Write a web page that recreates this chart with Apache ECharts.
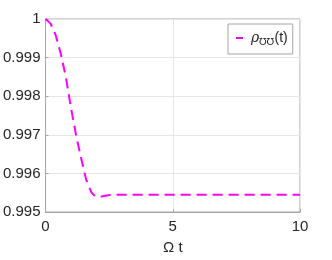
<!DOCTYPE html>
<html><head><meta charset="utf-8">
<script src="https://cdn.jsdelivr.net/npm/echarts@6/dist/echarts.min.js"></script>
<style>html,body{margin:0;padding:0;background:#fff}#c{width:332px;height:260px}</style>
</head><body><div id="c"></div>
<script>
const tValues = [0, 0.2, 0.4, 0.6, 0.8, 1.0, 1.2, 1.4, 1.6, 1.8, 1.9, 2.0, 2.1, 2.2, 2.4, 2.7, 3, 4, 5, 6, 7, 8, 9, 10];
const rhoValues = [1.0, 0.99988, 0.99958, 0.99910, 0.99849, 0.99770, 0.99699, 0.99639, 0.99583, 0.99551, 0.99544, 0.99540, 0.99539, 0.99540, 0.99543, 0.99545, 0.99545, 0.99545, 0.99545, 0.99545, 0.99545, 0.99545, 0.99545, 0.99545];
const xTickLabels = ['0', '5', '10'];
const yTickLabels = ['0.995', '0.996', '0.997', '0.998', '0.999', '1'];
const seriesName = 'rho';

const chart = echarts.init(document.getElementById('c'));
const txt = '#262626';
chart.setOption({
  animation: false,
  grid: {left: 44, right: 32, top: 19, bottom: 44, show: true, borderColor: '#a6a6a6', borderWidth: 1},
  legend: {
    show: true, left: 228, top: 24, width: 61, height: 31,
    orient: 'vertical',
    backgroundColor: '#fff', borderColor: '#a6a6a6', borderWidth: 1,
    padding: [7, 5, 7, 8],
    icon: 'rect', itemWidth: 7, itemHeight: 2, itemGap: 4,
    data: [seriesName],
    formatter: () => '{r|ρ}{s|℧℧}{n|(t)}',
    textStyle: {
      color: txt,
      rich: {
        r: {fontFamily: 'DejaVu Serif', fontStyle: 'italic', fontSize: 14, color: txt, padding: [0,0,0,3]},
        s: {fontFamily: 'DejaVu Sans', fontSize: 10, color: txt, verticalAlign: 'bottom', padding: [8,0,0,0]},
        n: {fontFamily: 'Liberation Sans', fontSize: 14, color: txt}
      }
    }
  },
  xAxis: {
    type: 'value', min: 0, max: 10, interval: 5,
    name: 'Ω t', nameLocation: 'middle', nameGap: 28,
    nameTextStyle: {color: txt, fontSize: 15, fontFamily: 'Liberation Sans'},
    axisLine: {lineStyle: {color: '#a6a6a6'}},
    axisTick: {inside: true, length: 3, lineStyle: {color: '#a6a6a6'}},
    axisLabel: {color: txt, fontSize: 15, fontFamily: 'Liberation Sans', margin: 7,
      formatter: v => xTickLabels[Math.round(v / 5)]},
    splitLine: {show: true, lineStyle: {color: '#e6e6e6', width: 1}}
  },
  yAxis: {
    type: 'value', min: 0.995, max: 1, interval: 0.001,
    axisLine: {show: true, lineStyle: {color: '#a6a6a6'}},
    axisTick: {show: true, inside: true, length: 3, lineStyle: {color: '#a6a6a6'}},
    axisLabel: {color: txt, fontSize: 15, fontFamily: 'Liberation Sans', margin: 5,
      formatter: v => yTickLabels[Math.round((v - 0.995) / 0.001)]},
    splitLine: {show: true, lineStyle: {color: '#e6e6e6', width: 1}}
  },
  series: [{
    name: seriesName, type: 'line', smooth: false, showSymbol: false, symbol: 'none',
    data: tValues.map((t, i) => [t, rhoValues[i]]),
    lineStyle: {color: '#ff00ff', width: 2, type: [10, 6]},
    itemStyle: {color: '#ff00ff'}
  }]
});
</script></body></html>
